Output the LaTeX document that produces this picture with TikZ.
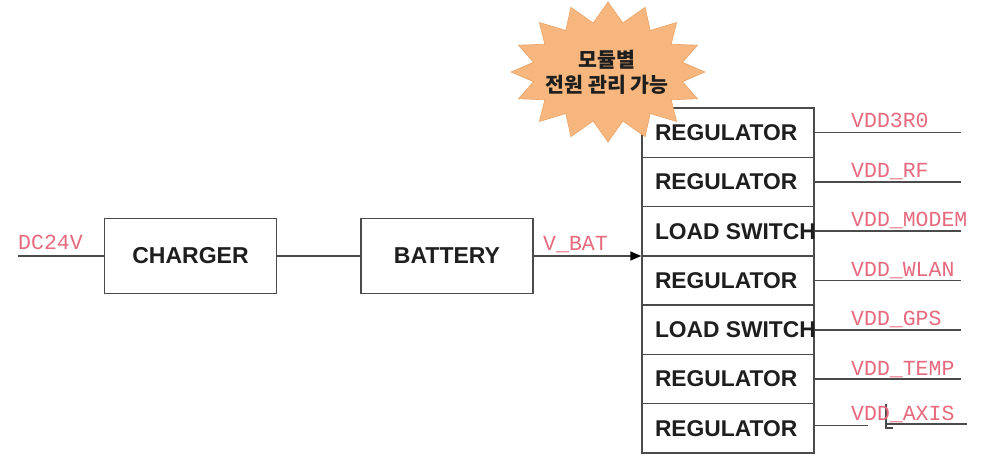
\documentclass[tikz,border=0pt]{standalone}
\usepackage{fontspec}
\setmainfont{Liberation Sans}
\newfontfamily\lblfont{Liberation Mono}
\newfontfamily\krfont{Noto Sans CJK KR}
\usetikzlibrary{arrows.meta}
\definecolor{boxc}{RGB}{75,75,75}
\definecolor{txtc}{RGB}{30,30,30}
\definecolor{lblc}{RGB}{230,105,125}
\definecolor{starc}{RGB}{246,182,126}
\definecolor{stare}{RGB}{236,165,105}
\begin{document}
\begin{tikzpicture}[x=1pt,y=-1pt,
  box/.style={draw=boxc, line width=1.4pt, minimum width=172pt, minimum height=75pt, inner sep=0pt,
    font=\fontsize{23}{26}\selectfont\bfseries, text=txtc},
  rowbox/.style={draw=boxc, line width=1.4pt, minimum width=172pt, minimum height=49.3pt, inner sep=0pt,
    font=\fontsize{22.8}{26}\selectfont\bfseries, text=txtc},
  wire/.style={draw=boxc, line width=1.4pt},
  lbl/.style={anchor=base west, inner sep=0pt, text=lblc, font=\lblfont\fontsize{21.5}{24}\selectfont},
  startext/.style={align=center, text=txtc, font=\krfont\bfseries\fontsize{20.5}{25}\selectfont}
]
\useasboundingbox (0,0) rectangle (985,462);

% main blocks
\node[box] (chg) at (190.5,256) {CHARGER};
\node[box] (bat) at (447,256) {BATTERY};

% output stack
\node[rowbox] (r1) at (728,132.6) {\makebox[146pt][l]{REGULATOR}};
\node[rowbox] (r2) at (728,181.9) {\makebox[146pt][l]{REGULATOR}};
\node[rowbox] (r3) at (728,231.2) {\makebox[146pt][l]{LOAD SWITCH}};
\node[rowbox] (r4) at (728,280.5) {\makebox[146pt][l]{REGULATOR}};
\node[rowbox] (r5) at (728,329.8) {\makebox[146pt][l]{LOAD SWITCH}};
\node[rowbox] (r6) at (728,379.1) {\makebox[146pt][l]{REGULATOR}};
\node[rowbox] (r7) at (728,428.4) {\makebox[146pt][l]{REGULATOR}};

% input chain
\coordinate (dcin) at (18,256);
\draw[wire] (dcin) -- (chg.west);
\draw[wire] (chg.east) -- (bat.west);
\draw[wire,-{Triangle[length=11pt,width=9pt,color=black]}] (bat.east) -- (bat.east -| r3.west);
\node[lbl] (ldc) at (18,250) {DC24V};
\node[lbl] (lvbat) at (543,251) {V\_BAT};

% outputs
\draw[wire] (r1.east) -- ++(146,0) coordinate (o1);
\draw[wire] (r2.east) -- ++(146,0) coordinate (o2);
\draw[wire] (r3.east) -- ++(146,0) coordinate (o3);
\draw[wire] (r4.east) -- ++(146,0) coordinate (o4);
\draw[wire] (r5.east) -- ++(146,0) coordinate (o5);
\draw[wire] (r6.east) -- ++(146,0) coordinate (o6);
\draw[wire] (r7.east) ++(0,-3) -- ++(53,0) coordinate (o7a);
\coordinate (o7b) at (886,424);
\coordinate (o7c) at (967,424);
\draw[wire] (o7b) -- (o7c);
\draw[draw=boxc, line width=1.2pt] (886,404) -- (886,428) -- (893,428);

\node[lbl] (l1) at (851,128) {VDD3R0};
\node[lbl] (l2) at (851,178) {VDD\_RF};
\node[lbl] (l3) at (851,227) {VDD\_MODEM};
\node[lbl] (l4) at (851,277) {VDD\_WLAN};
\node[lbl] (l5) at (851,326) {VDD\_GPS};
\node[lbl] (l6) at (851,375) {VDD\_TEMP};
\node[lbl] (l7) at (851,420) {VDD\_AXIS};

% starburst callout
\begin{scope}[shift={(608,72)}]
  \filldraw[fill=starc, draw=stare, line width=0.6pt]
    (97,0) \foreach \i in {0,...,15} {
      -- ({97*cos(\i*22.5)},{70*sin(\i*22.5)})
      -- ({76*cos(\i*22.5+11.25)},{50*sin(\i*22.5+11.25)})
    } -- cycle;
\end{scope}
\node[startext] (star) at (607,72) {모듈별\\전원 관리 가능};
\end{tikzpicture}
\end{document}
